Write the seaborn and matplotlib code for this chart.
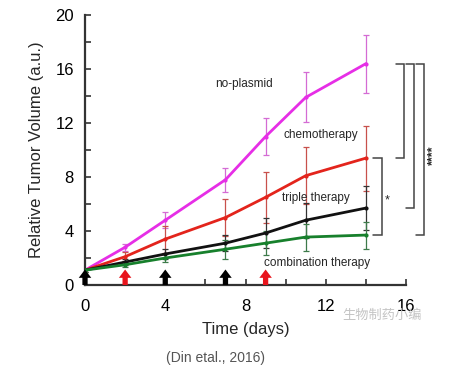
import numpy as np
import pandas as pd
import seaborn as sns
import matplotlib.pyplot as plt

# data (Din et al., 2016)
days = [0, 2, 4, 7, 9, 11, 14]
groups = ['no-plasmid', 'chemotherapy', 'triple therapy', 'combination therapy']
no_plasmid = [1.1, 2.8, 4.8, 7.8, 11.0, 13.9, 16.4]
no_plasmid_err = [0.1, 0.25, 0.6, 0.9, 1.4, 1.85, 2.15]
chemo = [1.1, 2.1, 3.4, 5.0, 6.5, 8.1, 9.4]
chemo_err = [0.1, 0.35, 1.0, 1.35, 1.9, 2.1, 2.4]
triple = [1.1, 1.7, 2.3, 3.1, 3.85, 4.8, 5.7]
triple_err = [0.1, 0.2, 0.4, 0.6, 1.1, 1.3, 1.6]
combo = [1.1, 1.5, 2.0, 2.65, 3.1, 3.55, 3.7]
combo_err = [0.1, 0.2, 0.3, 0.7, 0.9, 1.0, 1.0]
black_arrow_days = [0, 4, 7]
red_arrow_days = [2, 9]

line_colors = ['#e62ee6', '#e3241c', '#111111', '#17802c']
err_colors = ['#d46bd4', '#c8504c', '#333333', '#3d7a4a']

df = pd.DataFrame({
    'day': days * 4,
    'volume': no_plasmid + chemo + triple + combo,
    'err': no_plasmid_err + chemo_err + triple_err + combo_err,
    'group': [g for g in groups for _ in days],
})

sns.set_style('ticks')
plt.rcParams['font.family'] = ['Liberation Sans', 'DejaVu Sans']

fig = plt.figure(figsize=(4.58, 3.76), dpi=100)
ax = fig.add_axes([0.1856, 0.242, 0.701, 0.718])

for g, ec in zip(groups, err_colors):
    sub = df[df['group'] == g]
    ax.errorbar(sub['day'], sub['volume'], yerr=sub['err'], fmt='none',
                ecolor=ec, elinewidth=0.9, capsize=2.5, capthick=0.9, zorder=2)

sns.lineplot(data=df, x='day', y='volume', hue='group', palette=line_colors,
             marker='o', markersize=3, markeredgewidth=0, linewidth=2.0,
             legend=False, ax=ax, zorder=3)

ax.set_xlim(0, 16)
ax.set_ylim(0, 20)
ax.set_xticks([0, 4, 8, 12, 16])
ax.set_xticks([2, 6, 10, 14], minor=True)
ax.set_yticks([0, 4, 8, 12, 16, 20])
ax.set_yticks([2, 6, 10, 14, 18], minor=True)
ax.tick_params(axis='both', which='both', direction='in', length=4, width=1.2,
               colors='#333333', labelcolor='black', labelsize=12)
ax.tick_params(axis='x', pad=10)
ax.tick_params(axis='y', pad=8)
for s in ['top', 'right']:
    ax.spines[s].set_visible(False)
for s in ['left', 'bottom']:
    ax.spines[s].set_linewidth(1.6)
    ax.spines[s].set_color('#333333')

ax.set_xlabel('Time (days)', fontsize=12, labelpad=6)
ax.set_ylabel('Relative Tumor Volume (a.u.)', fontsize=12, labelpad=8)

# treatment arrows
astyle = 'simple,head_width=0.9,head_length=0.6,tail_width=0.38'
for d in black_arrow_days:
    ax.annotate('', xy=(d, 1.15), xytext=(d, 0.0),
                arrowprops=dict(arrowstyle=astyle, color='black', lw=0,
                                mutation_scale=10, shrinkA=0, shrinkB=0))
for d in red_arrow_days:
    ax.annotate('', xy=(d, 1.15), xytext=(d, 0.0),
                arrowprops=dict(arrowstyle=astyle, color='#e8141c', lw=0,
                                mutation_scale=10, shrinkA=0, shrinkB=0))

# labels for the curves
ax.text(7.9, 14.9, 'no-plasmid', fontsize=8.5, ha='center', va='center')
ax.text(11.75, 11.1, 'chemotherapy', fontsize=8.5, ha='center', va='center')
ax.text(11.5, 6.45, 'triple therapy', fontsize=8.5, ha='center', va='center')
ax.text(11.55, 1.6, 'combination therapy', fontsize=8.5, ha='center', va='center')

# significance brackets
def bracket(x0, x1, ylo, yhi):
    ax.plot([x0, x1, x1, x0], [yhi, yhi, ylo, ylo], color='#444444', lw=1.1,
            clip_on=False, solid_joinstyle='miter')

bracket(15.5, 15.9, chemo[-1], no_plasmid[-1])
bracket(16.0, 16.4, triple[-1], no_plasmid[-1])
bracket(16.5, 16.9, combo[-1], no_plasmid[-1])
bracket(14.35, 14.8, combo[-1], chemo[-1])
ax.text(15.05, 6.3, '*', fontsize=9, ha='center', va='center', clip_on=False)
ax.text(17.35, 9.6, '****', fontsize=9, ha='center', va='center', rotation=90,
        clip_on=False, fontweight='bold')

# caption and watermark
fig.text(0.47, 0.048, '(Din etal., 2016)', fontsize=10, color='#555555', ha='center', va='center')
fig.text(0.835, 0.162, '生物制药小编', fontsize=9.5, color='#c4c4c4', ha='center', va='center',
         family=['Noto Sans CJK SC', 'DejaVu Sans'], zorder=0)

fig.savefig('out.png', dpi=100)
